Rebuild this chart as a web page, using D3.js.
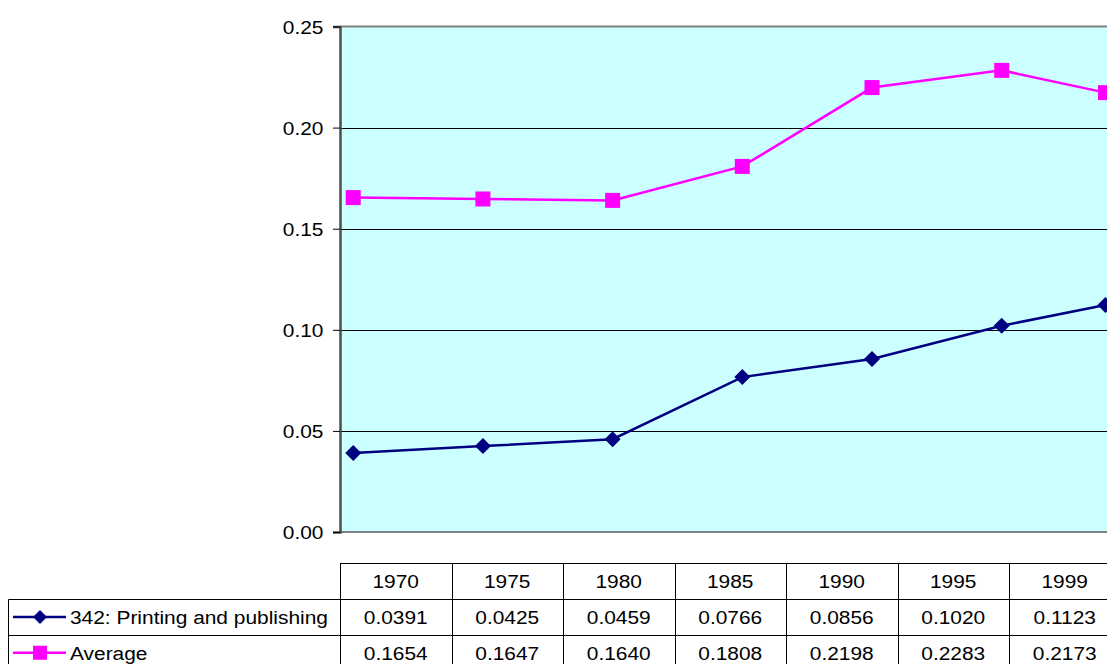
<!DOCTYPE html>
<html><head><meta charset="utf-8">
<script src="https://cdn.jsdelivr.net/npm/d3@7"></script>
<style>body{margin:0;background:#fff}svg{display:block}text{font-family:"Liberation Sans",Arial,sans-serif;font-size:19px;fill:#000}</style>
</head><body>
<svg id="c" width="1107" height="664"></svg>
<script>
const years = [1970, 1975, 1980, 1985, 1990, 1995, 1999];
const seriesNames = ["342: Printing and publishing", "Average"];
const printing = [0.0391, 0.0425, 0.0459, 0.0766, 0.0856, 0.1020, 0.1123];
const average = [0.1654, 0.1647, 0.1640, 0.1808, 0.2198, 0.2283, 0.2173];
const yTicks = [0, 0.05, 0.10, 0.15, 0.20, 0.25];
const colors = ["#000080", "#FF00FF"];

const SX = 1.1;
const svg = d3.select("#c");
const L = 340, R = 1120.5, T = 26.5, B = 532;
const x = d3.scaleLinear().domain([1969.49, 1999.58]).range([L, R]);
const y = d3.scaleLinear().domain([0, 0.25]).range([B, T]);

function stretchText(sel, xf, yf) {
  sel.attr("x", null).attr("y", null).attr("dy", null)
    .attr("transform", (d, i) => `translate(${xf(d, i)},${yf(d, i)}) scale(${SX},1)`);
}

svg.append("rect").attr("x", L).attr("y", T).attr("width", R - L).attr("height", B - T).attr("fill", "#CCFFFF");
svg.append("g").selectAll("line").data(yTicks.filter(d => d > 0 && d < 0.25)).join("line")
  .attr("x1", L).attr("x2", R).attr("y1", d => Math.round(y(d)) + 0.5).attr("y2", d => Math.round(y(d)) + 0.5)
  .attr("stroke", "#000").attr("stroke-width", 1);
svg.append("line").attr("x1", L).attr("x2", R).attr("y1", T).attr("y2", T).attr("stroke", "#808080").attr("stroke-width", 2);
svg.append("line").attr("x1", L).attr("x2", R).attr("y1", B).attr("y2", B).attr("stroke", "#808080").attr("stroke-width", 2);

const yAxis = d3.axisLeft(y).tickValues(yTicks).tickFormat(d3.format(".2f")).tickSize(7).tickPadding(10);
const ga = svg.append("g").attr("transform", `translate(${L},0)`).call(yAxis);
ga.select(".domain").attr("stroke", "#4d4d4d").attr("stroke-width", 2.5);
ga.selectAll(".tick line").attr("stroke", "#000");
ga.selectAll(".tick text").attr("fill", "#000").attr("text-anchor", "end")
  .call(s => stretchText(s, () => -16.5, () => 6.8));

const line = d3.line().x((d, i) => x(years[i])).y(d => y(d));
const data = [printing, average];
const markerPaths = ["M0,-8L8,0L0,8L-8,0Z", "M-7.5,-7.5H7.5V7.5H-7.5Z"];
data.forEach((s, k) => {
  svg.append("path").datum(s).attr("d", line).attr("fill", "none").attr("stroke", colors[k]).attr("stroke-width", 2.5);
  svg.append("g").selectAll("path").data(s).join("path")
    .attr("transform", (d, i) => `translate(${x(years[i])},${y(d)})`)
    .attr("d", markerPaths[k]).attr("fill", colors[k]);
});

// data table
const colW = (R - L) / years.length;
const rowTop = 563.5, rowH = 35.7;
const tbl = svg.append("g").attr("stroke", "#000").attr("stroke-width", 1);
tbl.append("line").attr("x1", L).attr("x2", R).attr("y1", rowTop).attr("y2", rowTop);
[1, 2, 3].forEach(r => {
  const yy = Math.round(rowTop + r * rowH) + 0.5;
  tbl.append("line").attr("x1", 8.5).attr("x2", R).attr("y1", yy).attr("y2", yy);
});
tbl.append("line").attr("x1", 8.5).attr("x2", 8.5).attr("y1", Math.round(rowTop + rowH) + 0.5).attr("y2", 664);
d3.range(years.length + 1).forEach(i => {
  const xx = Math.round(L + i * colW) + 0.5;
  tbl.append("line").attr("x1", xx).attr("x2", xx).attr("y1", rowTop).attr("y2", 664);
});
svg.append("g").selectAll("text").data(years).join("text")
  .attr("text-anchor", "middle").text(d => d)
  .call(s => stretchText(s, (d, i) => L + (i + 0.5) * colW, () => rowTop + rowH / 2 + 6.8));
data.forEach((s, k) => {
  const cy = rowTop + (k + 1.5) * rowH;
  svg.append("g").selectAll("text").data(s).join("text")
    .attr("text-anchor", "middle").text(d => d.toFixed(4))
    .call(sel => stretchText(sel, (d, i) => L + (i + 0.5) * colW, () => cy + 6.8));
  svg.append("line").attr("x1", 13).attr("x2", 66).attr("y1", cy).attr("y2", cy).attr("stroke", colors[k]).attr("stroke-width", 2.5);
  svg.append("path").attr("transform", `translate(40,${cy})`)
    .attr("d", k === 0 ? "M0,-7L7,0L0,7L-7,0Z" : "M-7,-7H7V7H-7Z").attr("fill", colors[k]);
  svg.append("text").datum(seriesNames[k]).text(d => d)
    .call(sel => stretchText(sel, () => 70, () => cy + 6.8));
});
</script>
</body></html>
